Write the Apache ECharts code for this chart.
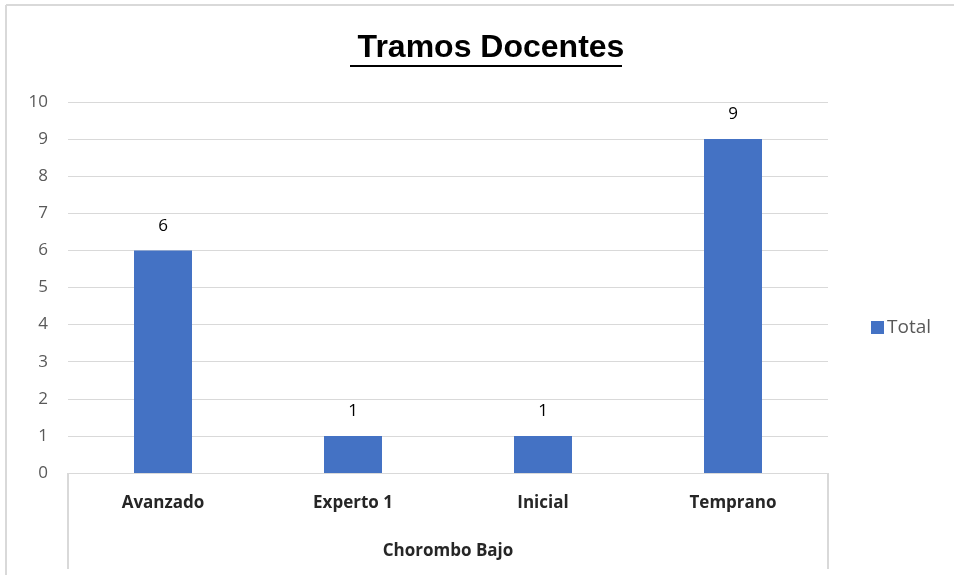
<!DOCTYPE html>
<html>
<head>
<meta charset="utf-8">
<script src="https://cdn.jsdelivr.net/npm/echarts@6/dist/echarts.min.js"></script>
<style>
  html, body { margin: 0; padding: 0; background: #fff; }
  #chart { width: 954px; height: 575px; }
</style>
</head>
<body>
<div id="chart"></div>
<script>
const categories = ['Avanzado', 'Experto 1', 'Inicial', 'Temprano']
const groupLabels = ['Chorombo Bajo']
const totals = [6, 1, 1, 9]
const seriesName = 'Total'
const chartTitle = 'Tramos Docentes'

const font = 'Open Sans'
const chart = echarts.init(document.getElementById('chart'))

chart.setOption({
  animation: false,
  backgroundColor: '#fff',
  title: {
    text: chartTitle,
    left: 486,
    textAlign: 'center',
    top: 27,
    textStyle: { fontFamily: 'Liberation Sans', fontWeight: 'bold', fontSize: 32, color: '#000' }
  },
  graphic: [
    { type: 'line', shape: { x1: 350, y1: 66, x2: 622, y2: 66 }, style: { stroke: '#000', lineWidth: 2 } },
    { type: 'line', shape: { x1: 6, y1: 5, x2: 954, y2: 5 }, style: { stroke: '#d9d9d9', lineWidth: 2 } },
    { type: 'line', shape: { x1: 6, y1: 5, x2: 6, y2: 575 }, style: { stroke: '#d9d9d9', lineWidth: 2 } }
  ],
  legend: {
    data: [seriesName],
    left: 866,
    top: 313,
    icon: 'rect',
    itemWidth: 13,
    itemHeight: 13,
    itemGap: 4,
    textStyle: { fontFamily: font, fontSize: 19, color: '#595959', padding: [0, 0, 0, -2] }
  },
  grid: { left: 68, right: 126, top: 102, bottom: 102 },
  xAxis: [
    {
      type: 'category',
      data: categories,
      axisLine: { lineStyle: { color: '#d9d9d9', width: 1 } },
      axisTick: { show: false },
      axisLabel: { margin: 22, fontFamily: font, fontWeight: 'bold', fontSize: 17, color: '#262626' }
    },
    {
      type: 'category',
      data: groupLabels,
      position: 'bottom',
      axisLine: { show: false },
      axisTick: { show: true, length: 96, lineStyle: { color: '#d9d9d9', width: 2 } },
      axisLabel: { margin: 70, fontFamily: font, fontWeight: 'bold', fontSize: 17, color: '#262626' }
    }
  ],
  yAxis: {
    type: 'value',
    min: 0,
    max: 10,
    interval: 1,
    axisLine: { show: false },
    axisTick: { show: false },
    axisLabel: { margin: 20, fontFamily: font, fontSize: 17, color: '#595959' },
    splitLine: { lineStyle: { color: '#d9d9d9', width: 1 } }
  },
  series: [
    {
      name: seriesName,
      type: 'bar',
      data: totals,
      barWidth: 58,
      itemStyle: { color: '#4472c4' },
      label: { show: true, position: 'top', distance: 16, fontFamily: font, fontSize: 17, color: '#000' }
    }
  ]
})
</script>
</body>
</html>
